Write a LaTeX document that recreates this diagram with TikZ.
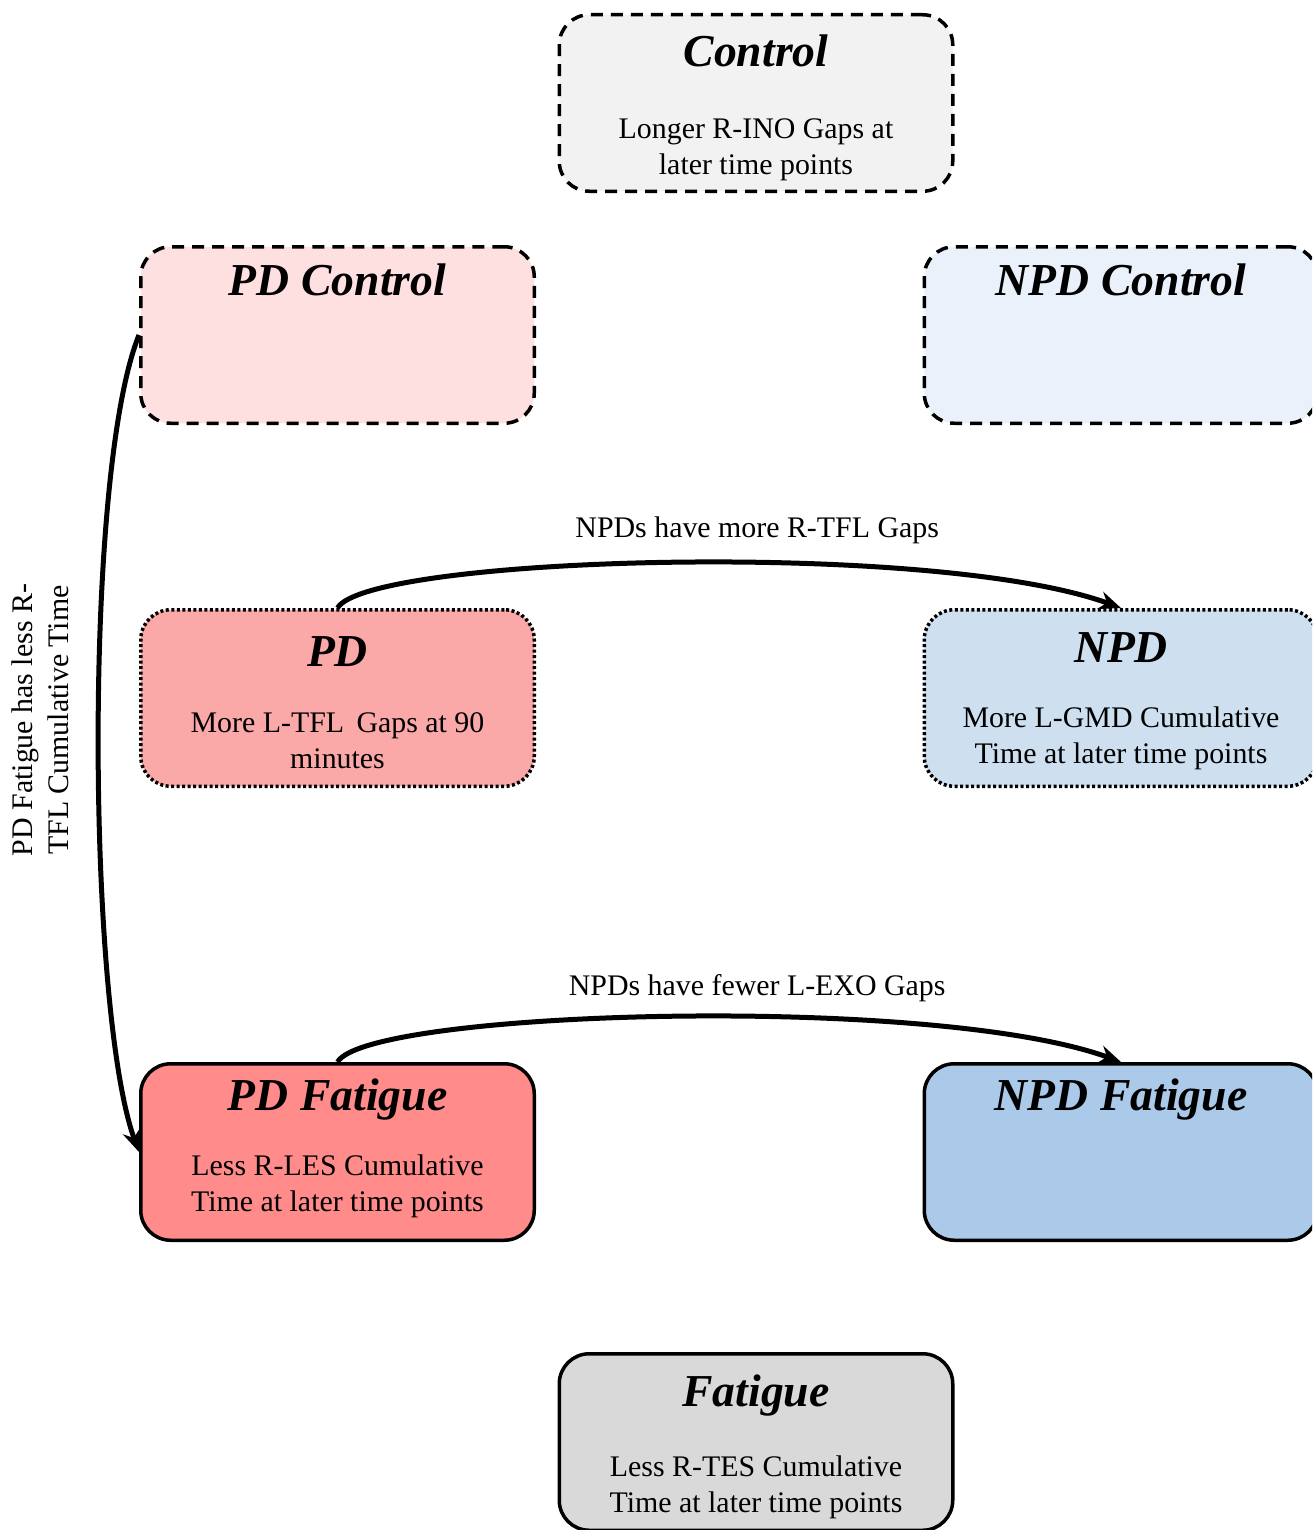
\documentclass[tikz,border=0pt]{standalone}
\usepackage{fontspec}
\setmainfont{Liberation Serif}
\usetikzlibrary{arrows.meta,positioning}

\definecolor{ctrlgray}{HTML}{F2F2F2}
\definecolor{pdctrlfill}{HTML}{FFE0E1}
\definecolor{npdctrlfill}{HTML}{EAF1FA}
\definecolor{pdfill}{HTML}{FBA8A9}
\definecolor{npdfill}{HTML}{CEDFF0}
\definecolor{pdfatfill}{HTML}{FF8B8B}
\definecolor{npdfatfill}{HTML}{ABC9E8}
\definecolor{fatgray}{HTML}{D9D9D9}

\begin{document}
\begin{tikzpicture}[>={Stealth[length=0.44cm,width=0.36cm]},
  box/.style={draw,rounded corners=0.6cm,line width=0.07cm,minimum width=7.87cm,minimum height=3.53cm},
  ctrlbox/.style={box,dash pattern=on 0.24cm off 0.16cm},
  groupbox/.style={box,dash pattern=on 0.06cm off 0.05cm},
  fatbox/.style={box},
  ttl/.style={font=\fontsize{26}{30}\selectfont\bfseries\itshape,inner sep=0pt,anchor=base},
  txt/.style={font=\fontsize{17}{20.5}\selectfont,align=center,inner sep=0pt},
  link/.style={->,line width=0.1cm}]

  \useasboundingbox (0,0) rectangle (26.24,-30.6);
  \clip (0,0) rectangle (26.24,-30.6);

  % control row
  \node[ctrlbox,fill=ctrlgray] (ctrl) at (15.12,-2.06) {};
  \node[ttl] (ctrlT) at ([yshift=-1.08cm]ctrl.north) {Control};
  \node[txt] (ctrlB) at ([yshift=-2.74cm]ctrl.north) {Longer R-INO Gaps at\\later time points};

  \node[ctrlbox,fill=pdctrlfill] (pdctrl) at (6.75,-6.7) {};
  \node[ttl] (pdctrlT) at ([yshift=-1.0cm]pdctrl.north) {PD Control};

  \node[ctrlbox,fill=npdctrlfill] (npdctrl) at (22.42,-6.7) {};
  \node[ttl] (npdctrlT) at ([yshift=-1.0cm]npdctrl.north) {NPD Control};

  % group row
  \node[groupbox,fill=pdfill] (pd) at (6.75,-13.96) {};
  \node[ttl] (pdT) at ([yshift=-1.16cm]pd.north) {PD};
  \node[txt] (pdB) at ([yshift=-2.66cm]pd.north) {More L-TFL\, Gaps at 90\\minutes};

  \node[groupbox,fill=npdfill] (npd) at (22.42,-13.96) {};
  \node[ttl] (npdT) at ([yshift=-1.08cm]npd.north) {NPD};
  \node[txt] (npdB) at ([yshift=-2.6cm]npd.north) {More L-GMD Cumulative\\Time at later time points};

  % fatigue row
  \node[fatbox,fill=pdfatfill] (pdfat) at (6.75,-23.04) {};
  \node[ttl] (pdfatT) at ([yshift=-0.96cm]pdfat.north) {PD Fatigue};
  \node[txt] (pdfatB) at ([yshift=-2.48cm]pdfat.north) {Less R-LES Cumulative\\Time at later time points};

  \node[fatbox,fill=npdfatfill] (npdfat) at (22.42,-23.04) {};
  \node[ttl] (npdfatT) at ([yshift=-0.96cm]npdfat.north) {NPD Fatigue};

  \node[fatbox,fill=fatgray] (fat) at (15.12,-28.84) {};
  \node[ttl] (fatT) at ([yshift=-1.08cm]fat.north) {Fatigue};
  \node[txt] (fatB) at ([yshift=-2.7cm]fat.north) {Less R-TES Cumulative\\Time at later time points};

  % connectors
  \draw[link] (pd.north) to[out=60,in=160,out distance=1.2cm,in distance=4cm]
    node[txt,pos=0.585,above=0.33cm] (tflL) {NPDs have more R-TFL Gaps} (npd.north);
  \draw[link] (pdfat.north) to[out=60,in=160,out distance=1.2cm,in distance=4cm]
    node[txt,pos=0.585,above=0.25cm] (exoL) {NPDs have fewer L-EXO Gaps} (npdfat.north);
  \draw[link] (pdctrl.west) to[out=-112,in=110,out distance=3cm,in distance=3cm] (pdfat.west);

  \node[txt,rotate=90] (fatL) at (0.8,-14.4) {PD Fatigue has less R-\\TFL Cumulative Time};
\end{tikzpicture}
\end{document}
